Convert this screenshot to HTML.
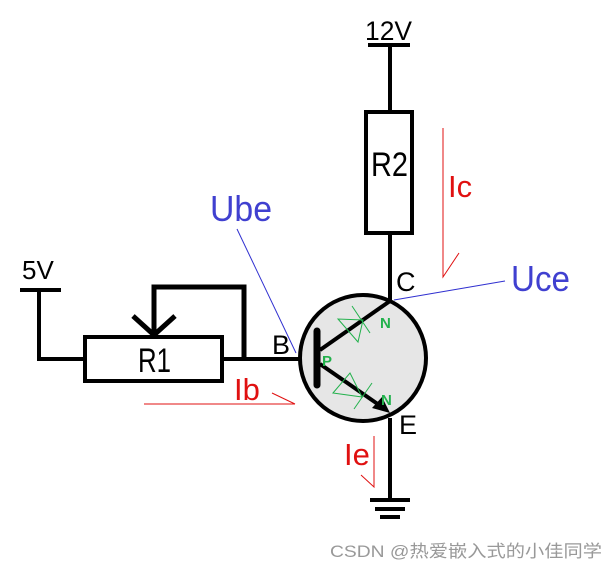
<!DOCTYPE html>
<html><head><meta charset="utf-8"><style>
html,body{margin:0;padding:0;background:#fff;}
svg{display:block;}
text{font-family:"Liberation Sans","Noto Sans CJK SC",sans-serif;}
</style></head><body>
<svg width="613" height="572" viewBox="0 0 613 572" xmlns="http://www.w3.org/2000/svg">
<text x="365" y="40" font-size="27" textLength="47" lengthAdjust="spacingAndGlyphs">12V</text>
<line x1="368" y1="45" x2="410" y2="45" stroke="#000" stroke-width="4"/>
<line x1="390" y1="45" x2="390" y2="112" stroke="#000" stroke-width="4"/>
<rect x="366" y="112" width="46" height="121" fill="#fff" stroke="#000" stroke-width="4"/>
<text x="371" y="176" font-size="34" textLength="37" lengthAdjust="spacingAndGlyphs">R2</text>
<line x1="390" y1="233" x2="390" y2="301" stroke="#000" stroke-width="4"/>
<text x="396" y="291" font-size="27">C</text>
<circle cx="363" cy="358" r="63" fill="#e6e6e6" stroke="#000" stroke-width="4"/>
<line x1="317" y1="331" x2="317" y2="385" stroke="#000" stroke-width="7" stroke-linecap="round"/>
<line x1="320" y1="350" x2="390" y2="301" stroke="#000" stroke-width="4"/>
<line x1="320" y1="364" x2="382" y2="407" stroke="#000" stroke-width="4"/>
<polygon points="390,413 372,408 382,397" fill="#000"/>
<line x1="390" y1="418" x2="390" y2="500" stroke="#000" stroke-width="4"/>
<line x1="370" y1="500" x2="410" y2="500" stroke="#000" stroke-width="4"/>
<line x1="375" y1="509" x2="405" y2="509" stroke="#000" stroke-width="4"/>
<line x1="380" y1="517" x2="400" y2="517" stroke="#000" stroke-width="4"/>
<text x="399" y="434" font-size="27">E</text>
<g stroke="#22b14c" stroke-width="1" fill="none">
<polygon points="338,319 358,342 363,320"/>
<line x1="352" y1="306" x2="370" y2="333"/>
<polygon points="333,393 350,373 362,397"/>
<line x1="354" y1="409" x2="372" y2="383"/>
</g>
<g fill="#22b14c" font-weight="bold" font-size="15">
<text x="380" y="328">N</text>
<text x="381" y="405">N</text>
<text x="322" y="366">P</text>
</g>
<text x="22" y="279" font-size="26">5V</text>
<line x1="20" y1="290" x2="61" y2="290" stroke="#000" stroke-width="4"/>
<polyline points="39,290 39,359 85,359" fill="none" stroke="#000" stroke-width="4"/>
<rect x="85" y="337" width="137" height="44" fill="#fff" stroke="#000" stroke-width="4"/>
<text x="138" y="372" font-size="34" textLength="33" lengthAdjust="spacingAndGlyphs">R1</text>
<line x1="222" y1="359" x2="299" y2="359" stroke="#000" stroke-width="4"/>
<polyline points="154,335 154,287 244,287 244,359" fill="none" stroke="#000" stroke-width="5"/>
<polyline points="133,316 154,335 175,316" fill="none" stroke="#000" stroke-width="5"/>
<text x="272" y="354" font-size="27">B</text>
<text x="210" y="221" font-size="36" fill="#4040d0" textLength="62" lengthAdjust="spacingAndGlyphs">Ube</text>
<line x1="237" y1="229" x2="296" y2="353" stroke="#3030d0" stroke-width="1"/>
<text x="511" y="291" font-size="36" fill="#4040d0" textLength="59" lengthAdjust="spacingAndGlyphs">Uce</text>
<line x1="394" y1="300" x2="505" y2="281" stroke="#3030d0" stroke-width="1"/>
<text x="448" y="197" font-size="31" fill="#e01010">Ic</text>
<polyline points="443,128 443,277 459,253" fill="none" stroke="#e01010" stroke-width="1"/>
<text x="234" y="400" font-size="31" fill="#e01010">Ib</text>
<line x1="144" y1="404" x2="295" y2="404" stroke="#e01010" stroke-width="1"/>
<line x1="272" y1="393" x2="295" y2="404" stroke="#e01010" stroke-width="1"/>
<text x="344" y="465" font-size="31" fill="#e01010">Ie</text>
<polyline points="374,436 374,487 361,475" fill="none" stroke="#e01010" stroke-width="1"/>
<text x="330" y="557" font-size="17" fill="#999" textLength="272" lengthAdjust="spacingAndGlyphs">CSDN @热爱嵌入式的小佳同学</text>
</svg>
</body></html>
